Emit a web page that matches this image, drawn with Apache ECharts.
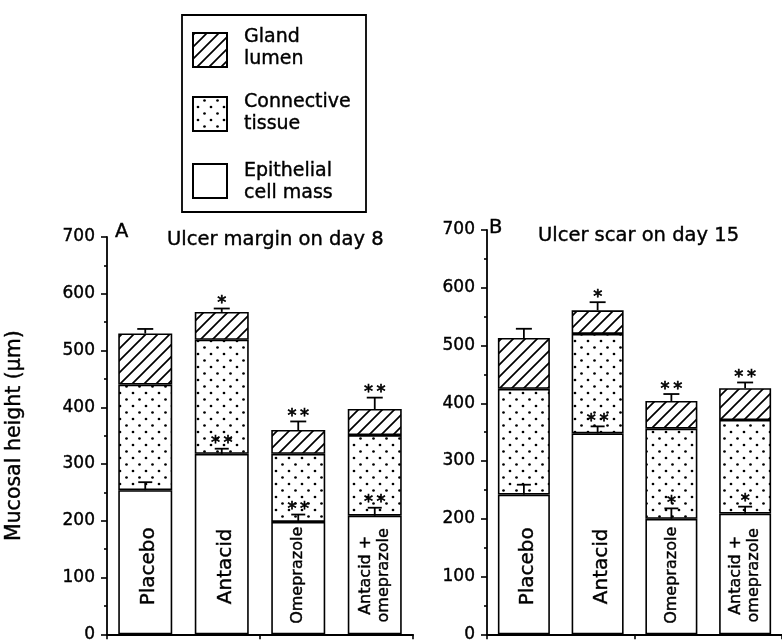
<!DOCTYPE html>
<html>
<head>
<meta charset="utf-8">
<script src="https://cdn.jsdelivr.net/npm/echarts@6/dist/echarts.min.js"></script>
<style>html,body{margin:0;padding:0;background:#fff}#c{width:782px;height:643px}</style>
</head>
<body>
<div id="c"></div>
<script>
// ---- data ----
const categories = ['Placebo', 'Antacid', 'Omeprazole', 'Antacid +\nomeprazole'];
const yTickLabels = ['0', '100', '200', '300', '400', '500', '600', '700'];
const seriesNames = ['Epithelial cell mass', 'Connective tissue', 'Gland lumen'];

// Panel A: ulcer margin on day 8 (segment heights, µm)
const epithelialA = [254, 318, 198, 209];
const connectiveA = [186, 201, 120, 142];
const glandA = [90, 49, 42, 46];
const epithelialErrA = [14, 9, 13, 14];
const totalErrA = [8, 6, 15, 20];
const epithelialSigA = ['', '**', '**', '**'];
const totalSigA = ['', '*', '**', '**'];

// Panel B: ulcer scar on day 15
const epithelialB = [242, 348, 200, 209];
const connectiveB = [183, 172, 156, 162];
const glandB = [88, 41, 48, 55];
const epithelialErrB = [17, 12, 18, 12];
const totalErrB = [16, 14, 12, 10];
const epithelialSigB = ['', '**', '*', '*'];
const totalSigB = ['', '*', '**', '**'];

// ---- styles / patterns ----
const FONT = 'DejaVu Sans';
const HEAVY = { textBorderColor: '#000', textBorderWidth: 0.4 };   // for component textStyle
const HEAVY_Z = { stroke: '#000', lineWidth: 0.4 };                 // for zrender text elements
function hatchPattern() {
  const s = 12, c = document.createElement('canvas');
  c.width = s; c.height = s;
  const g = c.getContext('2d');
  g.fillStyle = '#fff'; g.fillRect(0, 0, s, s);
  g.strokeStyle = '#000'; g.lineWidth = 1.7;
  g.beginPath();
  g.moveTo(-2, s + 2); g.lineTo(s + 2, -2);
  g.moveTo(-2, 2); g.lineTo(2, -2);
  g.moveTo(s - 2, s + 2); g.lineTo(s + 2, s - 2);
  g.stroke();
  return c;
}
function dotPattern() {
  const s = 13, c = document.createElement('canvas');
  c.width = s; c.height = s;
  const g = c.getContext('2d');
  g.fillStyle = '#fff'; g.fillRect(0, 0, s, s);
  g.fillStyle = '#000';
  [[3, 3], [9.5, 9.5]].forEach(p => { g.beginPath(); g.arc(p[0], p[1], 1.35, 0, Math.PI * 2); g.fill(); });
  return c;
}
const hatch = hatchPattern(), dots = dotPattern();
const fills = ['#ffffff', { image: dots, repeat: 'repeat' }, { image: hatch, repeat: 'repeat' }];

function sum(arrs) { return arrs[0].map((_, i) => arrs.reduce((s, a) => s + a[i], 0)); }

function barSeries(idx, segs, barWidth) {
  return segs.map((vals, k) => ({
    name: seriesNames[k], type: 'bar', stack: 'p' + idx,
    xAxisIndex: idx, yAxisIndex: idx, barWidth: barWidth,
    data: vals,
    itemStyle: { color: fills[k], borderColor: '#000', borderWidth: 1.6 },
    emphasis: { disabled: true }, silent: true
  }));
}

function errSeries(idx, tops, errs, sigs, capHalf) {
  return {
    type: 'custom', xAxisIndex: idx, yAxisIndex: idx, z: 10, silent: true,
    data: tops.map((t, i) => [i, t, t + errs[i]]),
    encode: { x: 0, y: [1, 2] },
    renderItem: function (params, api) {
      const x = api.value(0);
      const p0 = api.coord([x, api.value(1)]);
      const p1 = api.coord([x, api.value(2)]);
      const st = { stroke: '#000', lineWidth: 1.8 };
      const ch = [
        { type: 'line', shape: { x1: p0[0], y1: p0[1], x2: p1[0], y2: p1[1] }, style: st },
        { type: 'line', shape: { x1: p1[0] - capHalf, y1: p1[1], x2: p1[0] + capHalf, y2: p1[1] }, style: st }
      ];
      const s = sigs[params.dataIndex];
      if (s) ch.push({ type: 'text', x: p1[0], y: p1[1] + 4,
        style: { text: s.split('').join('\u2009'), fontFamily: FONT, fontSize: 18, fill: '#000', align: 'center', verticalAlign: 'bottom', stroke: '#000', lineWidth: 0.7 } });
      return { type: 'group', children: ch };
    }
  };
}

function labelSeries(idx) {
  return {
    type: 'custom', xAxisIndex: idx, yAxisIndex: idx, z: 11, silent: true,
    data: categories.map((c, i) => [i, 0]),
    encode: { x: 0, y: 1 },
    renderItem: function (params, api) {
      const p = api.coord([api.value(0), 0]);
      const txt = categories[params.dataIndex];
      const small = txt.length > 8;
      return {
        type: 'text', x: p[0] + (small ? 0 : 4), y: p[1] - (small ? 59 : 68), rotation: Math.PI / 2,
        style: Object.assign({ text: txt, fontFamily: FONT, fontSize: small ? 16 : 20, lineHeight: small ? 18 : 22,
          fill: '#000', align: 'center', verticalAlign: 'middle' }, HEAVY_Z)
      };
    }
  };
}

function xAxis(idx) {
  return {
    type: 'category', gridIndex: idx, data: categories,
    axisLine: { lineStyle: { color: '#000', width: 1.8 } },
    axisTick: { show: true, length: 5, lineStyle: { color: '#000', width: 1.6 } },
    axisLabel: { show: false }, splitLine: { show: false }
  };
}
function yAxis(idx, withName) {
  const ax = {
    type: 'value', gridIndex: idx, min: 0, max: 700, interval: 100,
    axisLine: { show: true, lineStyle: { color: '#000', width: 1.8 } },
    axisTick: { show: true, length: 6, lineStyle: { color: '#000', width: 1.6 } },
    minorTick: { show: true, splitNumber: 2, length: 3, lineStyle: { color: '#000', width: 1.6 } },
    splitLine: { show: false },
    axisLabel: Object.assign({ color: '#000', fontFamily: FONT, fontSize: 17, margin: 12,
      formatter: (v) => yTickLabels[Math.round(v / 100)] }, HEAVY)
  };
  if (withName) Object.assign(ax, {
    name: 'Mucosal height (\u03bcm)', nameLocation: 'middle', nameRotate: 90, nameGap: 82,
    nameTextStyle: Object.assign({ color: '#000', fontFamily: FONT, fontSize: 20.5 }, HEAVY)
  });
  return ax;
}

const segsA = [epithelialA, connectiveA, glandA];
const segsB = [epithelialB, connectiveB, glandB];

const titleStyle = Object.assign({ color: '#000', fontFamily: FONT, fontSize: 19.5, fontWeight: 'normal' }, HEAVY);

const chart = echarts.init(document.getElementById('c'), null, { renderer: 'canvas' });
const legendText = Object.assign({ fontFamily: FONT, fontSize: 19, lineHeight: 22, fill: '#000', verticalAlign: 'middle' }, HEAVY_Z);
chart.setOption({
  backgroundColor: '#fff',
  animation: false,
  title: [
    { text: 'A', left: 115, top: 222, padding: 0, textStyle: titleStyle },
    { text: 'Ulcer margin on day 8', left: 167, top: 230, padding: 0, textStyle: titleStyle },
    { text: 'B', left: 489, top: 218, padding: 0, textStyle: titleStyle },
    { text: 'Ulcer scar on day 15', left: 538, top: 226, padding: 0, textStyle: titleStyle }
  ],
  grid: [
    { left: 107, top: 237, width: 306, bottom: 3.5 },
    { left: 487, top: 230, width: 298, bottom: 7 }
  ],
  xAxis: [xAxis(0), xAxis(1)],
  yAxis: [yAxis(0, true), yAxis(1, false)],
  series: [
    ...barSeries(0, segsA, 54),
    errSeries(0, epithelialA, epithelialErrA, epithelialSigA, 7),
    errSeries(0, sum(segsA), totalErrA, totalSigA, 8),
    labelSeries(0),
    ...barSeries(1, segsB, 52),
    errSeries(1, epithelialB, epithelialErrB, epithelialSigB, 7),
    errSeries(1, sum(segsB), totalErrB, totalSigB, 8),
    labelSeries(1)
  ],
  graphic: [
    { type: 'rect', shape: { x: 182, y: 15, width: 184, height: 197 }, style: { fill: '#fff', stroke: '#000', lineWidth: 1.8 }, z: 1 },
    { type: 'rect', shape: { x: 193, y: 33, width: 34, height: 34 }, style: { fill: fills[2], stroke: '#000', lineWidth: 2 }, z: 2 },
    { type: 'rect', shape: { x: 193, y: 97, width: 34, height: 34 }, style: { fill: fills[1], stroke: '#000', lineWidth: 2 }, z: 2 },
    { type: 'rect', shape: { x: 193, y: 164, width: 34, height: 34 }, style: { fill: fills[0], stroke: '#000', lineWidth: 2 }, z: 2 },
    { type: 'text', x: 244, y: 48, style: Object.assign({ text: 'Gland\nlumen' }, legendText), z: 2 },
    { type: 'text', x: 244, y: 113, style: Object.assign({ text: 'Connective\ntissue' }, legendText), z: 2 },
    { type: 'text', x: 244, y: 182, style: Object.assign({ text: 'Epithelial\ncell mass' }, legendText), z: 2 }
  ]
});
</script>
</body>
</html>
